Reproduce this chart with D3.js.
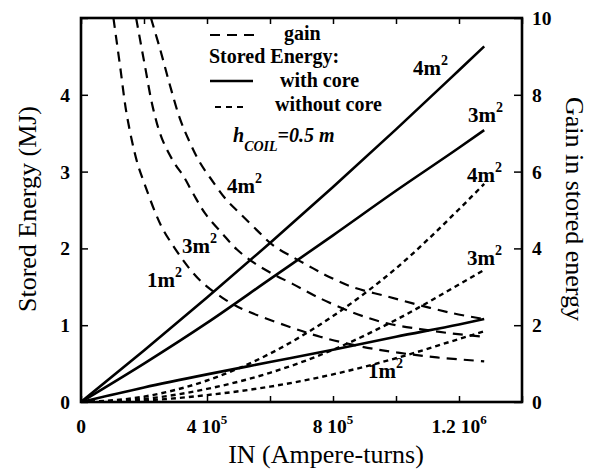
<!DOCTYPE html>
<html>
<head>
<meta charset="utf-8">
<script src="https://cdn.jsdelivr.net/npm/d3@7"></script>
<style>
  body { margin: 0; background: #fff; }
</style>
</head>
<body>
<div id="chart"></div>
<script>
// IN (ampere-turns) grid for stored energy
var inGrid = [0, 2e5, 4e5, 6e5, 8e5, 1e6, 1.2e6, 1.28e6];

// stored energy with core (MJ)
var core4 = [0, 0.67, 1.36, 2.07, 2.80, 3.55, 4.32, 4.63];
var core3 = [0, 0.50, 1.03, 1.60, 2.17, 2.75, 3.31, 3.54];
var core1 = [0, 0.19, 0.36, 0.52, 0.68, 0.85, 1.01, 1.08];

// stored energy without core (MJ)
var air4 = [0, 0.07, 0.28, 0.63, 1.12, 1.74, 2.51, 2.84];
var air3 = [0, 0.04, 0.17, 0.38, 0.68, 1.07, 1.53, 1.72];
var air1 = [0, 0.02, 0.09, 0.20, 0.36, 0.57, 0.82, 0.92];

// gain curves (right axis)
var gainIN1 = [1.03e5, 1.24e5, 1.46e5, 1.78e5, 2.03e5, 2.35e5, 2.6e5, 2.98e5, 3.4e5, 3.84e5, 4.48e5, 5.05e5, 6.54e5, 7.59e5, 8.86e5, 1.003e6, 1.13e6, 1.28e6];
var gain1   = [10.0, 8.75, 7.45, 6.25, 5.65, 4.95, 4.50, 4.00, 3.52, 3.12, 2.72, 2.45, 1.98, 1.70, 1.45, 1.29, 1.16, 1.06];
var gainIN3 = [1.75e5, 2.03e5, 2.29e5, 2.57e5, 2.98e5, 3.24e5, 3.56e5, 3.94e5, 4.48e5, 4.95e5, 5.52e5, 6.1e5, 6.73e5, 7.49e5, 8.63e5, 9.71e5, 1.076e6, 1.181e6, 1.28e6];
var gain3   = [10.0, 8.75, 7.64, 6.86, 6.20, 5.90, 5.43, 4.91, 4.39, 3.97, 3.61, 3.33, 3.07, 2.74, 2.33, 2.05, 1.90, 1.78, 1.70];
var gainIN4 = [2.22e5, 2.51e5, 2.83e5, 3.14e5, 3.46e5, 3.78e5, 4.1e5, 4.63e5, 5.05e5, 5.59e5, 6.1e5, 6.73e5, 7.37e5, 7.9e5, 8.63e5, 9.71e5, 1.076e6, 1.181e6, 1.28e6];
var gain4   = [10.0, 9.19, 8.23, 7.38, 6.75, 6.23, 5.84, 5.25, 4.91, 4.47, 4.08, 3.77, 3.48, 3.25, 2.99, 2.75, 2.52, 2.31, 2.16];

// ticks
var xTicks = [0, 2e5, 4e5, 6e5, 8e5, 1e6, 1.2e6, 1.4e6];
var xLabVals = [0, 4e5, 8e5, 1.2e6];
var xLabMant = ["0", "4 10", "8 10", "1.2 10"];
var xLabExp  = ["", "5", "5", "6"];
var yLTicks = [0, 1, 2, 3, 4, 5];
var yLLabels = [0, 1, 2, 3, 4];
var yRTicks = [0, 2, 4, 6, 8, 10];

var W = 596, H = 469;
var svg = d3.select("#chart").append("svg").attr("width", W).attr("height", H)
  .attr("font-family", "'Liberation Serif', 'Times New Roman', serif");

var x = d3.scaleLinear().domain([0, 1.4e6]).range([81, 522]);
var yL = d3.scaleLinear().domain([0, 5]).range([402, 18]);
var yR = d3.scaleLinear().domain([0, 10]).range([402, 18]);

svg.append("clipPath").attr("id", "plotclip")
  .append("rect").attr("x", 81).attr("y", 18).attr("width", 441).attr("height", 384);

var plot = svg.append("g").attr("clip-path", "url(#plotclip)");

function pts(xs, ys){ return xs.map(function(v, i){ return [v, ys[i]]; }); }

var lineL = d3.line().x(function(d){ return x(d[0]); }).y(function(d){ return yL(d[1]); }).curve(d3.curveMonotoneX);
var lineR = d3.line().x(function(d){ return x(d[0]); }).y(function(d){ return yR(d[1]); }).curve(d3.curveCatmullRom.alpha(0.5));

// with core (solid)
[core4, core3, core1].forEach(function(s){
  plot.append("path").datum(pts(inGrid, s)).attr("d", lineL)
    .attr("fill", "none").attr("stroke", "#000").attr("stroke-width", 2.6);
});
// without core (short dash)
[air4, air3, air1].forEach(function(s){
  plot.append("path").datum(pts(inGrid, s)).attr("d", lineL)
    .attr("fill", "none").attr("stroke", "#000").attr("stroke-width", 2.4)
    .attr("stroke-dasharray", "5,4");
});
// gain (long dash)
[[gainIN1, gain1], [gainIN3, gain3], [gainIN4, gain4]].forEach(function(s){
  plot.append("path").datum(pts(s[0], s[1])).attr("d", lineR)
    .attr("fill", "none").attr("stroke", "#000").attr("stroke-width", 2.2)
    .attr("stroke-dasharray", "10,7");
});

// axes ticks (inward)
var tickStyle = function(g){
  g.select(".domain").remove();
  g.selectAll(".tick line").attr("stroke", "#000").attr("stroke-width", 1.5);
  g.selectAll(".tick text").remove();
};
svg.append("g").attr("transform", "translate(0,402)")
  .call(d3.axisBottom(x).tickValues(xTicks).tickSize(-6).tickFormat("")).call(tickStyle);
svg.append("g").attr("transform", "translate(0,18)")
  .call(d3.axisTop(x).tickValues(xTicks).tickSize(-6).tickFormat("")).call(tickStyle);
svg.append("g").attr("transform", "translate(81,0)")
  .call(d3.axisLeft(yL).tickValues(yLTicks).tickSize(-7).tickFormat("")).call(tickStyle);
svg.append("g").attr("transform", "translate(522,0)")
  .call(d3.axisRight(yR).tickValues(yRTicks).tickSize(-8).tickFormat("")).call(tickStyle);

// frame
svg.append("rect").attr("x", 81).attr("y", 18).attr("width", 441).attr("height", 384)
  .attr("fill", "none").attr("stroke", "#000").attr("stroke-width", 2.6);

// tick labels
var xl = svg.append("g").attr("font-weight", "bold").attr("font-size", 19.5);
xLabVals.forEach(function(v, i){
  var t = xl.append("text").attr("x", x(v)).attr("y", 433).attr("text-anchor", "middle");
  t.append("tspan").text(xLabMant[i]);
  if (xLabExp[i]) t.append("tspan").attr("font-size", 13).attr("dy", -9).text(xLabExp[i]);
});
svg.append("g").attr("font-weight", "bold").attr("font-size", 19.5)
  .selectAll("text").data(yLLabels).join("text")
  .attr("x", 70).attr("y", function(d){ return yL(d) + 7; })
  .attr("text-anchor", "end").text(function(d){ return d; });
svg.append("g").attr("font-weight", "bold").attr("font-size", 19.5)
  .selectAll("text").data(yRTicks).join("text")
  .attr("x", 532).attr("y", function(d){ return yR(d) + 7; })
  .text(function(d){ return d; });

// axis titles
svg.append("text").attr("x", 326).attr("y", 463).attr("text-anchor", "middle")
  .attr("font-size", 26).text("IN (Ampere-turns)");
svg.append("text").attr("transform", "translate(36,209) rotate(-90)").attr("text-anchor", "middle")
  .attr("font-size", 26).text("Stored Energy (MJ)");
svg.append("text").attr("transform", "translate(566,209) rotate(90)").attr("text-anchor", "middle")
  .attr("font-size", 26).text("Gain in stored energy");

// legend
var lg = svg.append("g").attr("font-weight", "bold").attr("font-size", 20);
lg.append("line").attr("x1", 210).attr("x2", 255).attr("y1", 35).attr("y2", 35)
  .attr("stroke", "#000").attr("stroke-width", 2).attr("stroke-dasharray", "10,7");
lg.append("text").attr("x", 284).attr("y", 40).text("gain");
lg.append("text").attr("x", 209).attr("y", 63).text("Stored Energy:");
lg.append("line").attr("x1", 210).attr("x2", 253).attr("y1", 81).attr("y2", 81)
  .attr("stroke", "#000").attr("stroke-width", 2.6);
lg.append("text").attr("x", 280).attr("y", 87).text("with core");
lg.append("line").attr("x1", 215).attr("x2", 243).attr("y1", 107).attr("y2", 107)
  .attr("stroke", "#000").attr("stroke-width", 2).attr("stroke-dasharray", "6,5");
lg.append("text").attr("x", 275).attr("y", 111).text("without core");
var h = lg.append("text").attr("x", 233).attr("y", 142).attr("font-style", "italic");
h.append("tspan").text("h");
h.append("tspan").attr("font-size", 14).attr("dy", 9).text("COIL");
h.append("tspan").attr("dy", -9).text("=0.5 m");

// curve labels
var curveLabels = [
  ["4m", 413, 75], ["3m", 468, 122], ["4m", 467, 182], ["3m", 467, 265], ["1m", 368, 378],
  ["4m", 227, 193], ["3m", 182, 253], ["1m", 147, 287]
];
var cl = svg.append("g").attr("font-weight", "bold").attr("font-size", 21);
curveLabels.forEach(function(c){
  var t = cl.append("text").attr("x", c[1]).attr("y", c[2]);
  t.append("tspan").text(c[0]);
  t.append("tspan").attr("font-size", 14).attr("dy", -10).text("2");
});
</script>
</body>
</html>
